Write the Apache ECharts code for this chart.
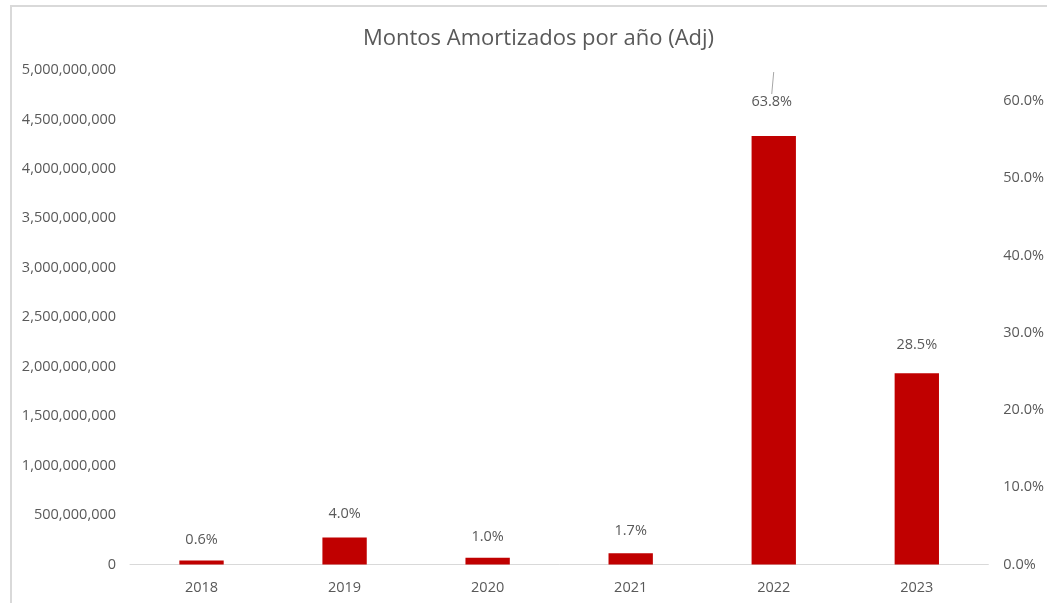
<!DOCTYPE html>
<html>
<head>
<meta charset="utf-8">
<script src="https://cdn.jsdelivr.net/npm/echarts@6/dist/echarts.min.js"></script>
<style>
  html, body { margin: 0; padding: 0; background: #fff; overflow: hidden; }
  #frame { position: absolute; left: 10px; top: 5px; width: 1200px; height: 800px;
           border-left: 2px solid #d9d9d9; border-top: 2px solid #d9d9d9; z-index: 0; }
  #chart { position: absolute; left: 0; top: 0; width: 1047px; height: 603px; z-index: 1; }
</style>
</head>
<body>
<div id="frame"></div>
<div id="chart"></div>
<script>
const titleText = 'Montos Amortizados por año (Adj)';
const categories = ['2018', '2019', '2020', '2021', '2022', '2023'];
const amounts = [41000000, 272000000, 68000000, 115000000, 4333000000, 1935000000];
const shares = [0.006, 0.040, 0.010, 0.017, 0.638, 0.285];
const leftTicks = { min: 0, max: 5000000000, interval: 500000000 };
const rightTicks = { min: 0, max: 0.64, interval: 0.1 };

const FONT = 'Open Sans';
const GREY = '#595959';

const shareData = shares.map((v, i) => i === 4
  ? { value: v, labelLine: { show: true } }
  : { value: v });

const chart = echarts.init(document.getElementById('chart'), null, { renderer: 'canvas' });
chart.setOption({
  animation: false,
  textStyle: { fontFamily: FONT },
  title: {
    text: titleText,
    left: 358, top: 23,
    textStyle: { fontFamily: FONT, fontSize: 22, fontWeight: 'normal', color: GREY }
  },
  grid: { left: 130, right: 58, top: 70, bottom: 38.5, containLabel: false },
  xAxis: {
    type: 'category',
    data: categories,
    boundaryGap: true,
    axisLine: { lineStyle: { color: '#d9d9d9', width: 1 } },
    axisTick: { show: false },
    axisLabel: { color: GREY, fontFamily: FONT, fontSize: 14.5, margin: 16 },
    splitLine: { show: false }
  },
  yAxis: [
    {
      type: 'value',
      min: leftTicks.min, max: leftTicks.max, interval: leftTicks.interval,
      axisLine: { show: false }, axisTick: { show: false },
      splitLine: { show: false },
      axisLabel: {
        color: GREY, fontFamily: FONT, fontSize: 14.5, margin: 14,
        padding: [6, 0, 0, 0],
        formatter: v => Math.round(v).toLocaleString('en-US')
      }
    },
    {
      type: 'value',
      min: rightTicks.min, max: rightTicks.max, interval: rightTicks.interval,
      axisLine: { show: false }, axisTick: { show: false },
      splitLine: { show: false },
      axisLabel: {
        color: GREY, fontFamily: FONT, fontSize: 14.5, margin: 15,
        padding: [6, 0, 0, 0],
        showMaxLabel: false,
        formatter: v => (v * 100).toFixed(1) + '%'
      }
    }
  ],
  series: [
    {
      type: 'bar',
      yAxisIndex: 0,
      data: amounts,
      barWidth: '31%',
      itemStyle: { color: '#c00000' },
      silent: true
    },
    {
      type: 'line',
      yAxisIndex: 1,
      data: shareData,
      symbol: 'circle',
      symbolSize: 1,
      itemStyle: { color: 'rgba(0,0,0,0)' },
      lineStyle: { width: 0, color: 'rgba(0,0,0,0)' },
      silent: true,
      label: {
        show: true, position: 'top', distance: 12,
        color: GREY, fontFamily: FONT, fontSize: 14.5,
        formatter: p => (p.value * 100).toFixed(1) + '%'
      },
      labelLine: { show: false, lineStyle: { color: '#a6a6a6', width: 1 } },
      labelLayout: function (params) {
        if (params.dataIndex === 4) return { dx: -2, dy: 50 };
        if (params.dataIndex === 5) return { dy: 21 };
        return {};
      }
    }
  ]
});
</script>
</body>
</html>
